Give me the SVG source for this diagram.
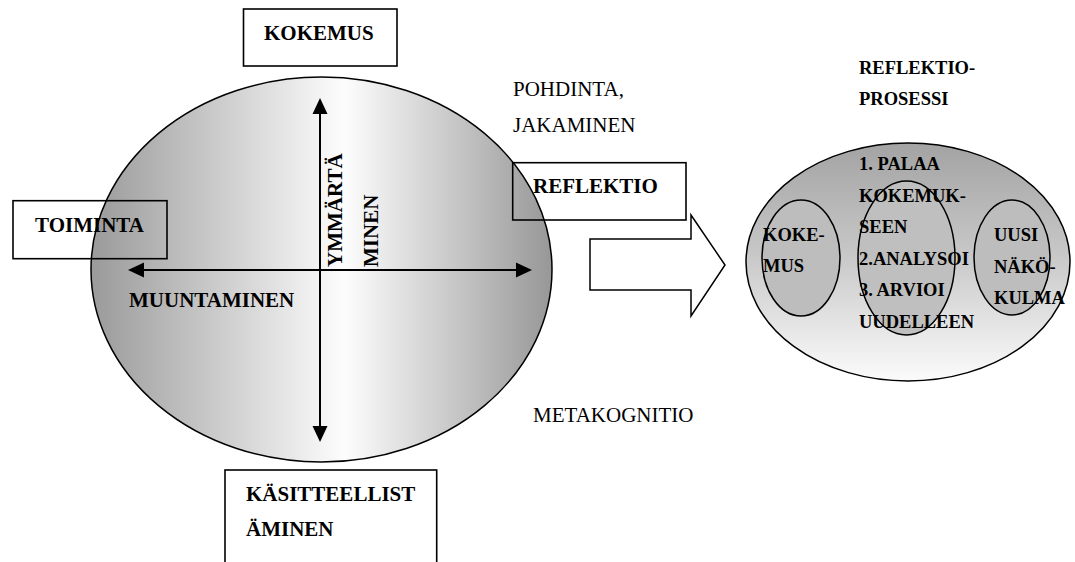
<svg xmlns="http://www.w3.org/2000/svg" width="1075" height="562" viewBox="0 0 1075 562">
<style>
.b{font-family:"Liberation Serif","Times New Roman",serif;font-weight:bold;font-size:21px;fill:#000}
.s{font-family:"Liberation Serif","Times New Roman",serif;font-weight:bold;font-size:18.5px;fill:#000}
.r{font-family:"Liberation Serif","Times New Roman",serif;font-size:21px;fill:#000}
.box{fill:none;stroke:#000;stroke-width:1.6}
.ol{stroke:#000;stroke-width:1.5}
.ax{stroke:#000;stroke-width:2;fill:none}
</style>
<defs>
<linearGradient id="gL" x1="0" y1="0" x2="1" y2="0">
<stop offset="0" stop-color="#9a9a9a"/>
<stop offset="0.55" stop-color="#fdfdfd"/>
<stop offset="1" stop-color="#979797"/>
</linearGradient>
<linearGradient id="gR" x1="0" y1="0" x2="0" y2="1">
<stop offset="0" stop-color="#a3a3a3"/>
<stop offset="0.45" stop-color="#c6c6c6"/>
<stop offset="1" stop-color="#fbfbfb"/>
</linearGradient>
<marker id="ah" viewBox="0 0 16 16" markerWidth="16" markerHeight="16" refX="12" refY="8" orient="auto-start-reverse" markerUnits="userSpaceOnUse">
<path d="M0,0.5 L16,8 L0,15.5 z" fill="#000"/>
</marker>
</defs>

<g id="kolb-ellipse">
<ellipse cx="321.5" cy="269.5" rx="230.5" ry="192.5" fill="url(#gL)" class="ol"/>
</g>

<g id="connectors">
<line x1="320" y1="102" x2="320" y2="438" class="ax" marker-start="url(#ah)" marker-end="url(#ah)"/>
<line x1="132" y1="270" x2="528" y2="270" class="ax" marker-start="url(#ah)" marker-end="url(#ah)"/>
<polygon points="590,239 691,239 691,215 725,265 691,316 691,290 590,290" fill="#fff" stroke="#000" stroke-width="1.5"/>
</g>

<g id="axis-labels">
<text class="b" transform="translate(342,267) rotate(-90)">YMMÄRTÄ</text>
<text class="b" transform="translate(378,267) rotate(-90)">MINEN</text>
<text class="b" x="129" y="307">MUUNTAMINEN</text>
</g>

<g id="kokemus">
<rect class="box" x="243.5" y="9" width="153.5" height="57"/>
<text class="b" x="264" y="40">KOKEMUS</text>
</g>

<g id="toiminta">
<rect class="box" x="13" y="200.7" width="154" height="58"/>
<text class="b" x="35" y="232">TOIMINTA</text>
</g>

<g id="reflektio">
<rect class="box" x="512.7" y="162.7" width="173.3" height="57.3"/>
<text class="b" x="533" y="193">REFLEKTIO</text>
</g>

<g id="kasitteellistaminen">
<rect class="box" x="225" y="470" width="211.7" height="110"/>
<text class="b" x="246" y="501">KÄSITTEELLIST</text>
<text class="b" x="246" y="536">ÄMINEN</text>
</g>

<g id="pohdinta">
<text class="r" x="513" y="96">POHDINTA,</text>
<text class="r" x="513" y="132">JAKAMINEN</text>
</g>

<g id="metakognitio">
<text class="r" x="533" y="422">METAKOGNITIO</text>
</g>

<g id="reflektioprosessi-title">
<text class="s" x="859" y="74">REFLEKTIO-</text>
<text class="s" x="859" y="105">PROSESSI</text>
</g>

<g id="reflektioprosessi">
<ellipse cx="908" cy="262" rx="162" ry="119" fill="url(#gR)" class="ol"/>
<ellipse cx="801" cy="258" rx="39" ry="58" fill="#bdbdbd" class="ol"/>
<ellipse cx="906.5" cy="258" rx="48.5" ry="77" fill="#bfbfbf" class="ol"/>
<ellipse cx="1012" cy="257.5" rx="38" ry="57.5" fill="#bdbdbd" class="ol"/>
</g>

<g id="kokemus-small">
<text class="s" x="763" y="241">KOKE-</text>
<text class="s" x="763" y="272">MUS</text>
</g>

<g id="vaiheet">
<text class="s" x="859" y="170">1. PALAA</text>
<text class="s" x="859" y="202">KOKEMUK-</text>
<text class="s" x="859" y="233">SEEN</text>
<text class="s" x="859" y="265">2.ANALYSOI</text>
<text class="s" x="859" y="296">3. ARVIOI</text>
<text class="s" x="859" y="328">UUDELLEEN</text>
</g>

<g id="uusi-nakokulma">
<text class="s" x="994" y="241">UUSI</text>
<text class="s" x="994" y="273">NÄKÖ-</text>
<text class="s" x="994" y="304">KULMA</text>
</g>
</svg>
